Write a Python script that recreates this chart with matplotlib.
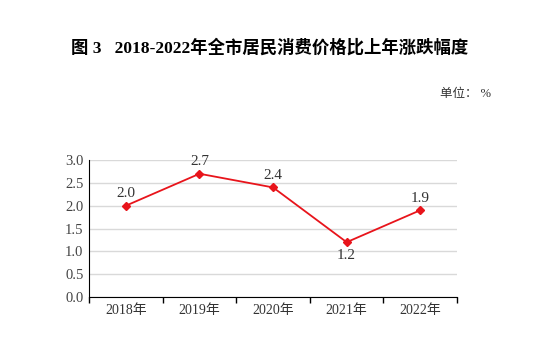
import matplotlib.pyplot as plt
import numpy as np

years = ['2018年', '2019年', '2020年', '2021年', '2022年']
values = [2.0, 2.7, 2.4, 1.2, 1.9]
label_pos = ['above', 'above', 'above', 'below', 'above']

plt.rcParams['font.family'] = ['Liberation Serif', 'Noto Sans CJK SC']

fig = plt.figure(figsize=(5.5, 3.51), dpi=100)
ax = fig.add_axes([0.162, 0.154, 0.669, 0.39])

x = np.arange(len(years))
ax.plot(x, values, color='#e8141b', lw=1.3, marker='D', ms=4.5, zorder=3)
for xi, v, p in zip(x, values, label_pos):
    if p == 'above':
        ax.annotate(f'{v:.1f}', (xi, v), xytext=(0, 4), textcoords='offset points',
                    ha='center', va='bottom', fontsize=11, color='#333333')
    else:
        ax.annotate(f'{v:.1f}', (xi, v), xytext=(0, -5), textcoords='offset points',
                    ha='center', va='top', fontsize=11, color='#333333')

ax.set_xlim(-0.5, len(years) - 0.5)
ax.set_ylim(0, 3.0)
ax.set_yticks(np.arange(0, 3.01, 0.5))
ax.set_yticklabels([f'{t:.1f}' for t in np.arange(0, 3.01, 0.5)], fontsize=10.5, color='#444444')
ax.set_xticks(x)
ax.set_xticklabels(years, fontsize=10, color='#333333')
ax.set_xticks(np.arange(-0.5, len(years)), minor=True)
ax.tick_params(axis='x', which='major', length=0, pad=5)
ax.tick_params(axis='x', which='minor', length=4, width=1, color='black')
ax.tick_params(axis='y', length=0, pad=4)
ax.grid(axis='y', color='#d9d9d9', lw=1)
ax.set_axisbelow(True)
for s in ['top', 'right']:
    ax.spines[s].set_visible(False)
ax.spines['left'].set_color('black')
ax.spines['bottom'].set_color('black')

fig.text(0.49, 0.865, '图 3   2018-2022年全市居民消费价格比上年涨跌幅度', ha='center', va='center',
         fontsize=12.5, fontweight='bold', color='black')
fig.text(0.80, 0.732, '单位： %', ha='left', va='center', fontsize=9, color='#333333')

fig.savefig('out.png', dpi=100)
